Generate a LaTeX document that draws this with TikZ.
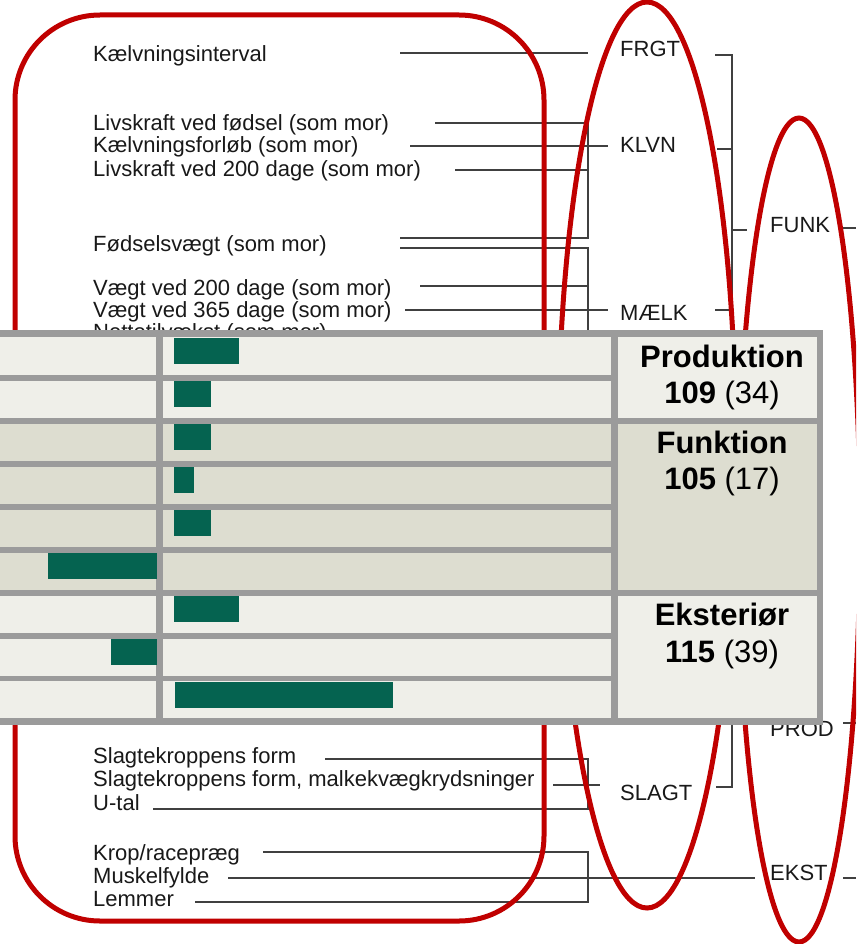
\documentclass[tikz,border=0pt]{standalone}
\usepackage{fontspec}
\setmainfont{Liberation Sans}
\definecolor{redc}{RGB}{192,0,0}
\definecolor{lncol}{RGB}{64,64,64}
\definecolor{txt}{RGB}{25,25,25}
\definecolor{grid}{RGB}{155,155,155}
\definecolor{lightc}{RGB}{239,239,233}
\definecolor{darkc}{RGB}{221,221,208}
\definecolor{barc}{RGB}{5,99,80}
\begin{document}
\begin{tikzpicture}[x=1pt,y=-1pt,
  lbl/.style={anchor=base west, inner sep=0pt, font=\fontsize{22}{23}\selectfont, text=txt},
  ln/.style={draw=lncol, line width=1.8pt},
  redl/.style={draw=redc, line width=5pt},
  bar/.style={fill=barc},
  big/.style={font=\fontsize{31}{36}\selectfont, anchor=base, inner sep=0pt, text=black}]
\useasboundingbox (0,0) rectangle (856,944);
\clip (0,0) rectangle (856,944);
\fill[white] (0,0) rectangle (856,944);

% left labels
\node[lbl] (kint) at (93,62) {Kælvningsinterval};
\node[lbl] (lfod) at (93,131) {Livskraft ved fødsel (som mor)};
\node[lbl] (kfor) at (93,153) {Kælvningsforløb (som mor)};
\node[lbl] (l200) at (93,177) {Livskraft ved 200 dage (som mor)};
\node[lbl] (fvgt) at (93,251) {Fødselsvægt (som mor)};
\node[lbl] (v200) at (93,295) {Vægt ved 200 dage (som mor)};
\node[lbl] (v365) at (93,317) {Vægt ved 365 dage (som mor)};
\node[lbl] (nett) at (93,339) {Nettotilvækst (som mor)};
\node[lbl] (sf1) at (93,763) {Slagtekroppens form};
\node[lbl] (sf2) at (93,786) {Slagtekroppens form, malkekvægkrydsninger};
\node[lbl] (utal) at (93,810) {U-tal};
\node[lbl] (krop) at (93,860) {Krop/racepræg};
\node[lbl] (musk) at (93,883) {Muskelfylde};
\node[lbl] (lemm) at (93,906) {Lemmer};

% group labels
\node[lbl] (frgt) at (620,57) {FRGT};
\node[lbl] (klvn) at (620,153) {KLVN};
\node[lbl] (maelk) at (620,320) {MÆLK};
\node[lbl] (slagt) at (620,800) {SLAGT};
\node[lbl] (funk) at (770,232) {FUNK};
\node[lbl] (prod) at (770,736) {PROD};
\node[lbl] (ekst) at (770,880) {EKST};

% connector lines
\draw[ln] (400,53) -- (588,53);
\draw[ln] (435,123) -- (588,123) -- (588,238) -- (400,238);
\draw[ln] (410,146) -- (608,146);
\draw[ln] (455,170) -- (588,170);
\draw[ln] (400,248) -- (588,248) -- (588,345);
\draw[ln] (420,286) -- (588,286);
\draw[ln] (405,310) -- (608,310);
\draw[ln] (420,332) -- (588,332);

\draw[ln] (715,55) -- (732,55) -- (732,345);
\draw[ln] (717,149) -- (732,149);
\draw[ln] (732,230) -- (747,230);
\draw[ln] (715,310) -- (732,310);
\draw[ln] (843,228) -- (856,228);

\draw[ln] (732,715) -- (732,787) -- (716,787);
\draw[ln] (843,723) -- (856,723);

\draw[ln] (325,759) -- (588,759) -- (588,809) -- (153,809);
\draw[ln] (553,785) -- (600,785);
\draw[ln] (263,852) -- (588,852) -- (588,902) -- (195,902);
\draw[ln] (228,878) -- (755,878);
\draw[ln] (843,878) -- (856,878);

% red outlines
\draw[redl, rounded corners=85pt] (15,15) rectangle (544,921);
\draw[redl] (647,455) ellipse [x radius=89pt, y radius=453pt];
\draw[redl] (799,530) ellipse [x radius=61pt, y radius=412pt];

% table
\fill[grid] (-5,330) rectangle (823,725);
\foreach \t/\b/\c in {337/375/lightc, 381/418/lightc, 424/461/darkc, 467/504/darkc,
                       510/547/darkc, 553/590/darkc, 596/633/lightc, 639/676/lightc, 681/718/lightc}{
  \fill[\c] (-5,\t) rectangle (156,\b);
  \fill[\c] (163,\t) rectangle (611,\b);
}
\fill[lightc] (618,337) rectangle (817,418);
\fill[darkc] (618,424) rectangle (817,590);
\fill[lightc] (618,596) rectangle (817,718);

% bars
\fill[bar] (174,338) rectangle (239,364);
\fill[bar] (174,381) rectangle (211,407);
\fill[bar] (174,424) rectangle (211,450);
\fill[bar] (174,467) rectangle (194,493);
\fill[bar] (174,510) rectangle (211,536);
\fill[bar] (48,553) rectangle (157,579);
\fill[bar] (174,596) rectangle (239,622);
\fill[bar] (111,639) rectangle (157,665);
\fill[bar] (175,682) rectangle (393,708);

% group values
\node[big] (tprod) at (722,367) {\textbf{Produktion}};
\node[big] (vprod) at (722,403) {\textbf{109} (34)};
\node[big] (tfunk) at (722,453) {\textbf{Funktion}};
\node[big] (vfunk) at (722,489) {\textbf{105} (17)};
\node[big] (teks) at (722,625) {\textbf{Eksteriør}};
\node[big] (veks) at (722,662) {\textbf{115} (39)};
\end{tikzpicture}
\end{document}
